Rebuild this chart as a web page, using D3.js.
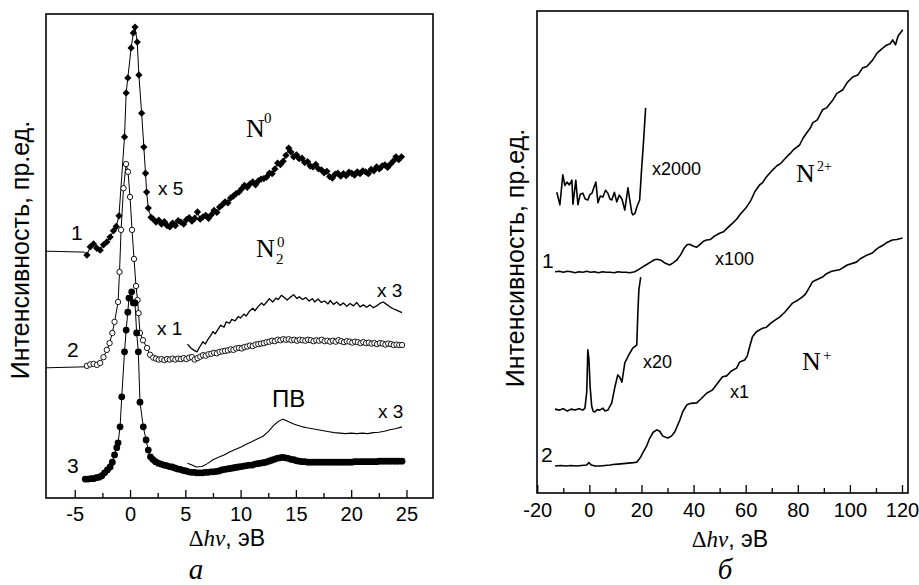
<!DOCTYPE html>
<html>
<head>
<meta charset="utf-8">
<script src="https://cdn.jsdelivr.net/npm/d3@7"></script>
<style>
body { margin: 0; background: #fff; }
</style>
</head>
<body>
<svg id="chart" width="919" height="585"></svg>
<script>
// ---- panel a: N0 (x5), N2^0 (x1 + x3), PB (x3) ----
var n0X = [-7.6,-4.1,-3.9,-3.6,-3.3,-3.0,-2.7,-2.4,-2.1,-1.8,-1.5,-1.25,-1.0,-0.5,-0.35,-0.2,0.1,0.3,0.45,0.65,0.8,1.05,1.25,1.4,1.5,1.65,1.9,2.1,2.35,2.6,2.85,3.1,3.35,3.6,3.85,4.1,4.35,4.6,4.85,5.1,5.35,5.6,5.85,6.1,6.35,6.6,6.85,7.1,7.35,7.6,7.85,8.1,8.35,8.6,8.85,9.1,9.35,9.6,9.85,10.1,10.35,10.6,10.85,11.1,11.35,11.6,11.85,12.1,12.35,12.6,12.85,13.1,13.35,13.6,13.85,14.1,14.35,14.55,14.8,15.05,15.3,15.55,15.8,16.05,16.3,16.55,16.8,17.05,17.3,17.55,17.8,18.05,18.3,18.55,18.8,19.05,19.3,19.55,19.8,20.05,20.3,20.55,20.8,21.05,21.3,21.55,21.8,22.05,22.3,22.55,22.8,23.05,23.3,23.55,23.8,24.05,24.3,24.55];
var n0Y = [51.0,50.8,50.2,51.9,52.5,51.6,51.2,52.3,52.9,53.9,55.2,56.1,58.3,74.6,83.7,86.8,93.0,96.1,97.3,94.2,87.4,79.5,72.5,67.1,63.2,59.9,58.0,57.6,57.0,57.4,56.6,57.1,56.3,56.0,56.8,56.3,57.3,57.0,56.6,57.5,57.9,57.2,57.8,59.1,57.6,58.1,58.4,57.8,58.5,59.4,59.0,60.1,60.6,61.2,61.0,62.0,62.4,62.9,63.2,63.9,64.6,64.2,64.9,65.3,64.7,65.5,65.9,66.0,66.3,67.1,67.0,68.0,69.2,68.9,69.6,70.8,72.3,71.5,70.5,70.9,70.1,70.2,69.3,69.5,68.6,68.4,68.9,68.0,67.8,67.2,67.5,66.4,66.1,66.9,67.1,66.5,67.0,66.6,67.3,67.1,66.7,67.4,67.0,67.6,67.4,67.0,67.9,67.6,68.4,68.0,68.6,68.8,68.3,69.0,69.6,70.5,69.9,70.5];

var n2X = [-7.6,-4.1,-3.9,-3.6,-3.3,-3.0,-2.7,-2.4,-2.1,-1.85,-1.6,-1.4,-1.08,-0.95,-0.81,-0.59,-0.36,-0.18,0.0,0.18,0.36,0.54,0.68,0.77,0.9,1.17,1.54,1.81,2.1,2.35,2.6,2.85,3.1,3.35,3.6,3.85,4.1,4.35,4.6,4.85,5.1,5.35,5.6,5.85,6.1,6.35,6.6,6.85,7.1,7.35,7.6,7.85,8.1,8.35,8.6,8.85,9.1,9.35,9.6,9.85,10.1,10.35,10.6,10.85,11.1,11.35,11.6,11.85,12.1,12.35,12.6,12.85,13.1,13.35,13.6,13.85,14.1,14.35,14.6,14.85,15.1,15.35,15.6,15.85,16.1,16.35,16.6,16.85,17.1,17.35,17.6,17.85,18.1,18.35,18.6,18.85,19.1,19.35,19.6,19.85,20.1,20.35,20.6,20.85,21.1,21.35,21.6,21.85,22.1,22.35,22.6,22.85,23.1,23.35,23.6,23.85,24.1,24.35,24.6];
var n2Y = [26.9,27.1,27.3,27.6,27.7,27.5,27.9,29.1,30.6,32.0,34.1,36.4,40.5,46.7,55.4,64.0,69.0,67.4,62.2,55.4,49.4,43.8,40.9,38.2,34.1,32.6,31.0,29.6,29.0,28.8,28.6,28.7,28.5,28.7,28.6,28.8,28.6,28.8,28.7,28.9,28.7,29.0,29.1,28.6,28.9,29.2,29.5,29.4,29.7,29.8,30.0,29.9,30.2,30.3,30.4,30.5,30.7,30.6,30.9,31.0,30.9,31.2,31.3,31.5,31.4,31.7,31.8,31.9,32.0,32.2,32.3,32.5,32.4,32.7,32.6,32.8,32.7,32.8,32.6,32.7,32.5,32.7,32.6,32.5,32.7,32.6,32.4,32.6,32.5,32.7,32.4,32.5,32.3,32.5,32.3,32.6,32.4,32.2,32.4,32.3,32.1,32.3,32.2,32.0,32.2,32.0,32.1,31.9,32.0,31.8,32.0,31.9,31.7,31.9,31.8,31.6,31.7,31.6,31.6];

var n2x3X = [5.2,5.5,5.8,6.05,6.3,6.6,6.8,7.0,7.3,7.5,7.7,8.0,8.2,8.5,8.7,9.0,9.2,9.5,9.8,10.0,10.3,10.5,10.8,11.1,11.3,11.6,11.9,12.1,12.4,12.6,12.9,13.2,13.4,13.7,14.0,14.2,14.5,14.8,15.1,15.3,15.6,15.9,16.2,16.5,16.7,17.0,17.3,17.6,17.9,18.1,18.4,18.7,19.0,19.3,19.6,19.9,20.2,20.5,20.8,21.1,21.4,21.7,22.0,22.3,22.6,22.9,23.2,23.5,23.8,24.1,24.4,24.6];
var n2x3Y = [31.8,31.0,30.5,30.2,31.2,32.3,31.8,32.6,33.6,34.4,33.9,35.0,35.7,35.3,36.4,36.1,36.9,36.6,37.5,37.2,38.0,37.6,38.6,39.2,38.7,39.6,40.3,39.8,40.6,41.2,40.5,41.3,41.0,41.9,41.3,40.9,41.5,42.0,41.2,41.6,41.0,41.4,40.7,41.2,40.5,41.1,40.4,40.7,40.1,40.8,40.0,40.5,39.8,40.3,39.6,40.2,39.7,40.4,39.5,39.9,39.4,39.9,39.3,39.7,40.2,40.5,40.0,39.5,39.1,38.8,38.5,38.3];

var pvX = [-4.05,-3.8,-3.55,-3.3,-3.05,-2.8,-2.55,-2.3,-2.05,-1.8,-1.6,-1.4,-1.2,-1.08,-0.9,-0.75,-0.5,-0.35,-0.2,-0.1,0.15,0.3,0.45,0.6,0.75,0.9,1.2,1.45,1.65,1.85,2.05,2.3,2.55,2.8,3.05,3.3,3.55,3.8,4.05,4.3,4.55,4.8,5.05,5.3,5.55,5.8,6.05,6.3,6.55,6.8,7.05,7.3,7.55,7.8,8.05,8.3,8.55,8.8,9.05,9.3,9.55,9.8,10.05,10.3,10.55,10.8,11.05,11.3,11.55,11.8,12.05,12.3,12.55,12.8,13.05,13.3,13.55,13.8,14.05,14.3,14.55,14.8,15.05,15.3,15.55,15.8,16.05,16.3,16.55,16.8,17.05,17.3,17.55,17.8,18.05,18.3,18.55,18.8,19.05,19.3,19.55,19.8,20.05,20.3,20.55,20.8,21.05,21.3,21.55,21.8,22.05,22.3,22.55,22.8,23.05,23.3,23.55,23.8,24.05,24.3,24.6];
var pvY = [3.9,3.9,4.0,4.0,4.2,4.3,4.6,5.2,5.8,6.4,7.4,8.9,10.4,11.4,14.7,20.9,30.2,34.7,38.4,41.3,42.6,40.3,40.3,34.1,30.2,19.8,14.7,12.0,9.9,8.5,8.0,7.5,7.2,7.0,6.8,6.7,6.5,6.4,6.2,6.0,5.9,5.7,5.6,5.4,5.3,5.3,5.2,5.2,5.2,5.3,5.3,5.4,5.4,5.5,5.6,5.8,5.9,6.0,6.1,6.2,6.3,6.4,6.5,6.6,6.7,6.8,6.8,7.0,7.1,7.2,7.3,7.4,7.6,7.8,8.0,8.2,8.3,8.4,8.3,8.2,8.0,7.9,7.7,7.6,7.5,7.5,7.4,7.4,7.4,7.4,7.4,7.4,7.4,7.4,7.4,7.4,7.4,7.4,7.4,7.4,7.4,7.4,7.4,7.5,7.5,7.5,7.5,7.5,7.5,7.5,7.5,7.5,7.6,7.6,7.6,7.6,7.6,7.6,7.6,7.6,7.6];

var pvx3X = [5.2,5.6,6.0,6.5,7.0,7.5,8.0,8.5,9.0,9.5,10.0,10.5,11.0,11.5,12.0,12.5,13.0,13.4,13.8,14.1,14.4,14.8,15.2,15.6,16.0,16.5,17.0,17.5,18.0,18.5,19.0,19.5,20.0,20.5,21.0,21.5,22.0,22.5,23.0,23.5,24.0,24.6];
var pvx3Y = [7.2,6.8,6.4,6.5,7.1,7.9,8.4,8.9,9.5,10.0,10.5,11.1,11.6,12.2,12.7,13.7,15.0,15.8,16.3,16.0,15.7,15.3,15.0,14.7,14.5,14.3,14.1,13.9,13.7,13.5,13.4,13.3,13.4,13.3,13.4,13.3,13.5,13.6,13.8,14.1,14.3,14.7];

// ---- panel b: N2+ (x100, x2000), N+ (x1, x20) ----
var ion2X = [-13.2,-11.5,-10,-8.5,-7,-5.5,-4,-2.5,-1,0.5,2,3.5,5,6.5,8,9.5,11,12.5,14,15.5,17.4,19,20.5,22,23.5,25,26,27.5,29,30.8,32,33.5,35,36.5,37.5,38.5,40,41.2,42.5,44,45,46.5,48,50,51.5,53,55,56.5,58,60.3,62,63.5,65.3,66.5,68,70.3,72,73.5,75.7,77,78.5,80.7,82,83.4,85,85.7,87.5,89.5,91,93.4,95,97.2,99,101.1,103,104.9,106.5,108.7,110.5,112.6,114,115.5,116.4,117.5,118.5,120.3];
var ion2Y = [45.9,46.0,45.8,46.0,45.9,45.7,45.9,45.8,46.0,45.8,45.9,45.7,45.9,45.8,45.8,45.7,45.9,45.8,45.8,45.7,45.9,46.4,46.9,47.4,47.9,48.4,48.5,48.3,47.7,47.3,47.7,48.3,49.4,50.9,51.5,51.6,51.2,51.0,51.6,52.3,52.5,52.6,53.3,53.9,54.2,55.0,56.0,56.8,57.9,59.3,60.7,62.5,63.9,64.4,65.6,67.0,67.9,68.4,69.7,70.4,71.3,72.2,73.6,74.7,75.9,76.8,77.4,79.5,79.9,81.5,82.9,83.6,85.2,86.3,86.7,88.2,88.5,89.8,91.3,92.3,92.9,93.2,94.0,93.0,94.8,96.1];

var ion2kX = [-12.5,-11.3,-10.2,-9.4,-8.6,-7.7,-6.7,-6.3,-5.2,-4.4,-3.5,-2.5,-1.6,-0.6,0.2,1.0,2.0,2.5,3.3,4.2,5.2,6.2,7.1,7.9,8.6,9.6,10.5,11.5,12.5,13.6,14.8,15.6,16.3,16.7,17.5,18.2,19.3,20.1,20.8,21.6];
var ion2kY = [62.4,59.8,66.0,63.8,64.5,63.9,64.9,59.9,64.9,59.8,62.0,62.2,61.0,60.8,61.9,62.2,63.8,64.5,60.2,61.6,61.4,62.8,62.2,61.0,60.8,62.4,60.4,61.8,61.0,58.7,63.3,60.5,58.1,57.7,58.0,59.3,60.8,67.6,73.0,79.9];

var ion1X = [-13.2,-11,-9,-7,-5,-3,-1,-0.2,0.8,2.1,4,6,8,9,11,13,15,17,18.2,19.5,20.5,22,23.2,24.5,25.9,27,28.2,30.1,31.5,32.8,34,34.7,35.8,37.4,39,41.2,43,45,47.3,49,51.1,52.7,54.5,56.5,57.7,59.6,60.6,61.5,62.6,64,66.5,68,70,73,75,78,80,81.8,83,84.5,85.6,87,89.5,91,93,96,99,102.5,104,106,108.6,110,111.3,113,114,116.3,118,120.2];
var ion1Y = [5.6,5.7,5.6,5.7,5.6,5.7,5.8,6.3,5.8,5.6,5.6,5.7,5.8,5.9,6.0,6.1,6.2,6.3,6.4,7.3,8.3,9.8,11.4,12.6,13.1,12.8,11.8,11.4,11.8,12.7,14.2,15.1,16.8,18.3,18.6,18.7,19.6,20.7,21.4,22.6,24.1,24.3,25.3,25.9,27.2,27.6,28.4,30.3,32.4,33.4,34.2,34.4,35.4,36.5,37.5,39.4,40.0,40.7,41.3,42.7,43.8,44.2,44.8,45.5,46.0,46.3,47.3,47.9,48.6,49.2,49.8,50.5,51.0,51.5,51.9,52.5,52.6,52.9];

var ion1zX = [-13.2,-11.5,-10,-8.5,-7,-5.5,-4,-2.5,-1.7,-1.0,-0.6,-0.2,0.3,0.9,1.5,2.1,3,4.0,5.2,6,7.1,8.6,9.8,10.9,11.7,12.5,13.6,15.5,16.7,18.2,18.6,19.0,19.7];
var ion1zY = [17.4,17.2,17.5,17.0,17.4,17.2,17.5,17.2,17.6,21.0,29.7,28.0,22.0,18.0,16.9,16.8,17.3,17.2,17.6,17.0,17.2,18.7,22.0,24.5,24.0,23.0,27.0,29.0,30.1,30.7,37.3,42.1,44.8];

var ticksA = [-5, 0, 5, 10, 15, 20, 25];
var minorA = [-2.5, 2.5, 7.5, 12.5, 17.5, 22.5];
var ticksB = [-20, 0, 20, 40, 60, 80, 100, 120];
var minorB = [-10, 10, 30, 50, 70, 90, 110];

var sans = "'Liberation Sans', Arial, sans-serif";
var serif = "'Liberation Serif', 'Times New Roman', serif";

var svg = d3.select("#chart");

function zip(xs, ys) { return xs.map((v, i) => [v, ys[i]]); }

function makePanel(xr, yr, domain, major, minor, pad, titleX, titleY, letterX, letter) {
    var x = d3.scaleLinear().domain(domain).range(xr);
    var y = d3.scaleLinear().domain([0, 100]).range(yr);

    var ax = svg.append("g").attr("transform", `translate(0,${yr[0]})`)
        .call(d3.axisBottom(x).tickValues(major).tickSizeInner(-8).tickSizeOuter(0)
            .tickPadding(pad).tickFormat(d => String(d)));
    ax.select(".domain").remove();
    ax.attr("font-size", 20).attr("font-family", sans);
    ax.selectAll("line").attr("stroke-width", 1.3);

    var mx = svg.append("g").attr("transform", `translate(0,${yr[0]})`)
        .call(d3.axisBottom(x).tickValues(minor).tickSizeInner(-5).tickSizeOuter(0).tickFormat(""));
    mx.select(".domain").remove();
    mx.selectAll("line").attr("stroke-width", 1.3);

    svg.append("rect")
        .attr("x", xr[0]).attr("y", yr[1])
        .attr("width", xr[1] - xr[0]).attr("height", yr[0] - yr[1])
        .attr("fill", "none").attr("stroke", "#000").attr("stroke-width", 1.6);

    // x axis title: Δhν, эВ
    var t = svg.append("text").attr("x", titleX).attr("y", titleY)
        .attr("text-anchor", "middle").attr("font-size", 23);
    t.append("tspan").attr("font-family", serif).text("Δ");
    t.append("tspan").attr("font-family", serif).attr("font-style", "italic").text("hν");
    t.append("tspan").attr("font-family", sans).text(", эВ");

    svg.append("text").attr("x", letterX).attr("y", 579)
        .attr("text-anchor", "middle").attr("font-family", serif)
        .attr("font-style", "italic").attr("font-size", 29).text(letter);

    return { x: x, y: y };
}

function yLabel(cx, cy) {
    svg.append("text")
        .attr("transform", `translate(${cx},${cy}) rotate(-90)`)
        .attr("text-anchor", "middle").attr("font-family", sans)
        .attr("font-size", 25).text("Интенсивность, пр.ед.");
}

function label(x, y, txt, size, fam) {
    return svg.append("text").attr("x", x).attr("y", y)
        .attr("font-family", fam || sans).attr("font-size", size || 19).text(txt);
}

function drawLine(p, data, w) {
    var line = d3.line().x(d => p.x(d[0])).y(d => p.y(d[1]));
    svg.append("path").datum(data).attr("d", line)
        .attr("fill", "none").attr("stroke", "#000")
        .attr("stroke-width", w).attr("stroke-linejoin", "round");
}

// panel a
var pa = makePanel([46, 433], [498, 14], [-7.6, 27.4], ticksA, minorA, 9, 227, 546, 196, "а");
yLabel(29, 250);

var n0 = zip(n0X, n0Y), n2 = zip(n2X, n2Y), pv = zip(pvX, pvY);
drawLine(pa, n0, 1);
drawLine(pa, n2, 1);
drawLine(pa, pv, 1);
drawLine(pa, zip(n2x3X, n2x3Y), 1.3);
drawLine(pa, zip(pvx3X, pvx3Y), 1.1);

var diamond = d3.symbol().type(d3.symbolDiamond2 || d3.symbolDiamond).size(34);
svg.append("g").selectAll("path").data(n0.filter(d => d[0] > -4)).join("path")
    .attr("d", diamond)
    .attr("transform", d => `translate(${pa.x(d[0])},${pa.y(d[1])})`)
    .attr("fill", "#000");

svg.append("g").selectAll("circle").data(n2.filter(d => d[0] > -4)).join("circle")
    .attr("cx", d => pa.x(d[0])).attr("cy", d => pa.y(d[1])).attr("r", 2.7)
    .attr("fill", "#fff").attr("stroke", "#000").attr("stroke-width", 0.9);

svg.append("g").selectAll("circle").data(pv).join("circle")
    .attr("cx", d => pa.x(d[0])).attr("cy", d => pa.y(d[1])).attr("r", 3.4)
    .attr("fill", "#000");

label(71, 240, "1", 21);
label(67, 357, "2", 21);
label(67, 473, "3", 21);
label(158, 195, "x 5");
label(157, 335, "x 1");
label(377, 297, "x 3");
label(378, 418, "x 3");
label(272, 407, "ПВ", 24);
label(246, 137, "N", 26, serif);
label(264, 123, "0", 15, serif);
label(256, 257, "N", 26, serif);
label(276, 264, "2", 15, serif);
label(277, 247, "0", 15, serif);

// panel b
var pb = makePanel([537, 908], [493, 11], [-20.1, 122.3], ticksB, minorB, 10, 730, 547, 725, "б");
yLabel(524, 258);

drawLine(pb, zip(ion2X, ion2Y), 1.6);
drawLine(pb, zip(ion2kX, ion2kY), 1.6);
drawLine(pb, zip(ion1X, ion1Y), 1.6);
drawLine(pb, zip(ion1zX, ion1zY), 1.6);

label(652, 175, "x2000", 18);
label(715, 265, "x100", 18);
label(643, 368, "x20", 18);
label(730, 398, "x1", 18);
label(542, 268, "1", 21);
label(541, 462, "2", 21);
label(796, 182, "N", 26, serif);
label(817, 171, "2+", 14, serif);
label(802, 370, "N", 26, serif);
label(823, 360, "+", 15, serif);
</script>
</body>
</html>
